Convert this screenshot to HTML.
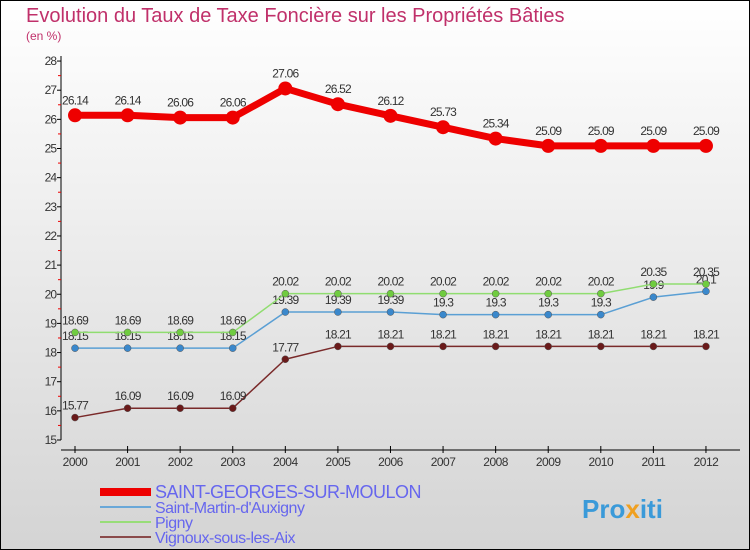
<!DOCTYPE html>
<html><head><meta charset="utf-8"><style>
body{margin:0}
#c{width:750px;height:550px;position:relative;overflow:hidden;font-family:"Liberation Sans","DejaVu Sans",sans-serif}
</style></head><body>
<div id="c">
<svg id="s" width="750" height="550" xmlns="http://www.w3.org/2000/svg">
<defs><linearGradient id="bg" x1="0" y1="0" x2="0" y2="1"><stop offset="0" stop-color="#ffffff"/><stop offset="1" stop-color="#d4d4d4"/></linearGradient></defs>
<rect x="0.5" y="0.5" width="749" height="549" fill="url(#bg)" stroke="#000"/>
<text x="26" y="22" font-size="20" fill="#c0306a">Evolution du Taux de Taxe Foncière sur les Propriétés Bâties</text>
<text x="26" y="40" font-size="12" fill="#c0306a">(en %)</text>
<g id="axes"></g><g id="series"></g><g id="legend"></g>
<text x="582" y="518" font-size="26" font-weight="bold" fill="#3a9ad9">Pro<tspan fill="#f0a020">x</tspan>iti</text>
</svg>
</div>
<script>
const years=[2000,2001,2002,2003,2004,2005,2006,2007,2008,2009,2010,2011,2012];
const yTicks=[15,16,17,18,19,20,21,22,23,24,25,26,27,28];
const sgm=[26.14,26.14,26.06,26.06,27.06,26.52,26.12,25.73,25.34,25.09,25.09,25.09,25.09];
const stm=[18.15,18.15,18.15,18.15,19.39,19.39,19.39,19.3,19.3,19.3,19.3,19.9,20.1];
const pig=[18.69,18.69,18.69,18.69,20.02,20.02,20.02,20.02,20.02,20.02,20.02,20.35,20.35];
const vig=[15.77,16.09,16.09,16.09,17.77,18.21,18.21,18.21,18.21,18.21,18.21,18.21,18.21];
const names=["SAINT-GEORGES-SUR-MOULON","Saint-Martin-d'Auxigny","Pigny","Vignoux-sous-les-Aix"];
const NS="http://www.w3.org/2000/svg";
const X=i=>75+i*52.58, Y=v=>440-(v-15)*29.15;
function mk(p,t,a){const e=document.createElementNS(NS,t);for(const k in a)e.setAttribute(k,a[k]);p.appendChild(e);return e;}
const ax=document.getElementById('axes');
let l=mk(ax,'line',{x1:61,y1:56,x2:61,y2:440,stroke:'#000'});


l=mk(ax,'line',{x1:61,y1:450,x2:740,y2:450,stroke:'#000'});


yTicks.forEach(v=>{
 const y=Y(v);
 mk(ax,'line',{x1:57,y1:y,x2:61,y2:y,stroke:'#000'});
 if(v<28) mk(ax,'line',{x1:58,y1:Y(v+0.5),x2:61,y2:Y(v+0.5),stroke:'#e00'});
 const t=mk(ax,'text',{x:56,y:y+4,'font-size':12,'text-anchor':'end',fill:'#333','letter-spacing':'-1'});
 t.textContent=v;
 
 
});
years.forEach((yr,i)=>{
 const x=X(i);
 mk(ax,'line',{x1:x,y1:446,x2:x,y2:453,stroke:'#000'});
 const t=mk(ax,'text',{x:x,y:466,'font-size':12,'text-anchor':'middle',fill:'#333','letter-spacing':'-0.5'});
 t.textContent=yr;
 
 
});
const sg=document.getElementById('series');
const defs=[[vig,'#7a2a2a','#6a1a1a',1.5,3.5,'vignoux'],[stm,'#5a9fd4','#3a88cc',1.5,3.5,'saint-martin'],[pig,'#90dd70','#70cc40',1.5,3.5,'pigny'],[sgm,'#ee0000','#ee0000',7,7,'saint-georges']];
defs.forEach(([d,c,mc,w,r,n])=>{
 const g=mk(sg,'g',{});
 
 
 const p=mk(g,'polyline',{points:d.map((v,i)=>X(i)+','+Y(v)).join(' '),fill:'none',stroke:c,'stroke-width':w,'stroke-linejoin':'round'});
 
 
 d.forEach((v,i)=>{
  const ci=mk(g,'circle',{cx:X(i),cy:Y(v),r:r,fill:mc,stroke:w>2?'none':'#555','stroke-width':0.5});
  
  
  const t=mk(g,'text',{x:X(i),y:Y(v)-(w>2?11:8),'font-size':12,'text-anchor':'middle',fill:'#333','letter-spacing':'-0.8'});
  t.textContent=v;
  
  
 });
});
const lg=document.getElementById('legend');
const lc=['#ee0000','#6aa8d8','#98dd78','#8a4a4a'],lw=[8,2,2,2],ly=[492,507,522,537];
names.forEach((nm,i)=>{
 const g=mk(lg,'g',{});
 
 
 mk(g,'line',{x1:100,y1:ly[i],x2:151,y2:ly[i],stroke:lc[i],'stroke-width':lw[i]});
 const t=mk(g,'text',{x:155,y:ly[i]+6,'font-size':i==0?18:16,fill:'#6666ee','letter-spacing':'-0.5'});
 t.textContent=nm;
});
</script>
</body></html>
